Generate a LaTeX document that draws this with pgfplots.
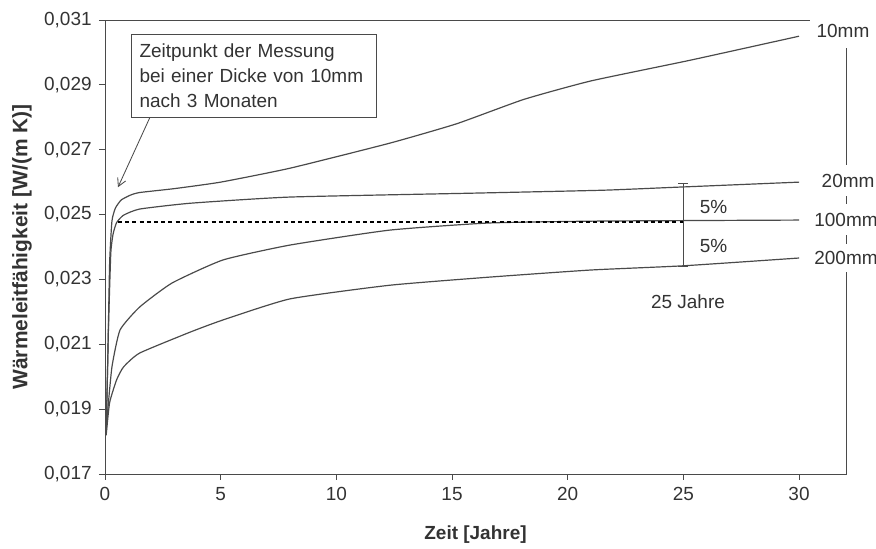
\documentclass[border=0pt]{standalone}
\usepackage{pgfplots}
\pgfplotsset{compat=1.18}
\usepackage{fontspec}
\setmainfont{Liberation Sans}
\usetikzlibrary{arrows.meta}

\definecolor{txt}{HTML}{333333}
\definecolor{ln}{HTML}{4A4A4A}

\begin{document}
\begin{tikzpicture}[font=\fontsize{13.5}{16}\selectfont, text=txt,
  curve/.style={ln, line width=0.85pt, no markers, smooth, tension=0.3}]
\begin{axis}[
  name=ax,
  scale only axis,
  width=185.25mm, height=113.5mm,
  xmin=0, xmax=32.03,
  ymin=0.017, ymax=0.031,
  xtick={0,5,...,30},
  ytick={0.017,0.019,0.021,0.023,0.025,0.027,0.029,0.031},
  scaled y ticks=false,
  xticklabel style={yshift=-0.6mm},
  yticklabel style={xshift=-0.6mm, /pgf/number format/.cd, fixed, fixed zerofill, precision=3, use comma},
  /pgf/number format/assume math mode=true,
  tick align=outside, tick pos=left,
  major tick length=1.5mm,
  axis line style={ln, line width=0.6pt},
  every tick/.style={ln, line width=0.6pt},
  xlabel={\bfseries Zeit [Jahre]},
  ylabel={\bfseries Wärmeleitfähigkeit [W/(m K)]},
  xlabel style={at={(axis description cs:0.5,-0.134)}, anchor=center},
  ylabel style={at={(axis description cs:-0.112,0.5)}, anchor=center, font=\fontsize{14.9}{17}\selectfont},
  clip=false,
]
% 10mm
\addplot[curve] coordinates {(0.05,0.0182) (0.12,0.0205) (0.2,0.0235) (0.3,0.0248) (0.45,0.0252) (0.7,0.02545) (1.1,0.0256) (1.5,0.02568) (3,0.0258) (5,0.0260) (8,0.02643) (12.3,0.0272) (15.2,0.0278) (18.1,0.02855) (21,0.02912) (25.3,0.02976) (30,0.0305)};
% 20mm
\addplot[curve] coordinates {(0.05,0.0183) (0.15,0.0215) (0.25,0.0238) (0.35,0.0244) (0.5,0.02475) (0.8,0.02498) (1.5,0.02517) (3.7,0.02535) (8,0.02554) (15.9,0.02566) (21.5,0.02575) (24.6,0.02584) (30,0.0260)};
% 100mm
\addplot[curve] coordinates {(0.05,0.0182) (0.1,0.0188) (0.3,0.0203) (0.65,0.02144) (1.5,0.02215) (2.9,0.02289) (5.1,0.0236) (8,0.02406) (12.3,0.02452) (16.6,0.02474) (21.5,0.0248) (30,0.02483)};
% 200mm
\addplot[curve] coordinates {(0.05,0.0182) (0.2,0.0192) (0.5,0.0199) (0.8,0.0203) (1.5,0.02073) (3.7,0.02138) (5.1,0.02175) (8,0.0224) (12.3,0.02282) (16.6,0.02307) (21,0.02329) (25,0.02342) (30,0.02366)};
% reference level
\addplot[black, line width=0.9pt, no markers, sharp plot, dash pattern=on 1mm off 0.8mm] coordinates {(0.56,0.02477) (25,0.02477)};
% 5% range
\addplot[ln, line width=0.7pt, no markers, sharp plot] coordinates {(25,0.02597) (25,0.02341)};
\addplot[ln, line width=0.7pt, no markers, sharp plot] coordinates {(24.78,0.02597) (25.22,0.02597)};
\addplot[ln, line width=0.7pt, no markers, sharp plot] coordinates {(24.78,0.02341) (25.22,0.02341)};

\node[anchor=west] at (axis cs:25.5,0.025228) {5\%};
\node[anchor=west] at (axis cs:25.5,0.024026) {5\%};
\node at (axis cs:25.2,0.0223) {25 Jahre};

\node[draw=ln, line width=0.6pt, fill=white, minimum width=61.25mm, minimum height=20.75mm,
      text width=57mm, align=left, inner xsep=2.1mm, font=\fontsize{13.5}{17.6}\selectfont]
  at (axis cs:6.42,0.029281) {Zeitpunkt der Messung\\bei einer Dicke von 10mm\\nach 3 Monaten};
\draw[ln, line width=0.6pt, -{Straight Barb[length=2mm, width=2.2mm]}] (axis cs:1.945,0.028002) -- (axis cs:0.562,0.025844);

\coordinate (l10) at (axis cs:31.90,0.030652);
\coordinate (l20) at (axis cs:32.12,0.026045);
\coordinate (l100) at (axis cs:32.03,0.024843);
\coordinate (l200) at (axis cs:32.03,0.023656);
\end{axis}

\node[fill=white, minimum width=16.5mm, minimum height=8.5mm, inner sep=0pt] at (l10) {10mm};
\node[fill=white, minimum height=7.75mm, inner xsep=0.6mm, inner ysep=0pt] at (l20) {20mm};
\node[fill=white, minimum height=7.75mm, inner xsep=0.6mm, inner ysep=0pt] at (l100) {100mm};
\node[fill=white, minimum height=7mm, inner xsep=0.6mm, inner ysep=0pt] at (l200) {200mm};

\pgfresetboundingbox
\useasboundingbox ([shift={(-26.25mm,-18.75mm)}]ax.south west) rectangle ([shift={(7.5mm,5mm)}]ax.north east);
\end{tikzpicture}
\end{document}
